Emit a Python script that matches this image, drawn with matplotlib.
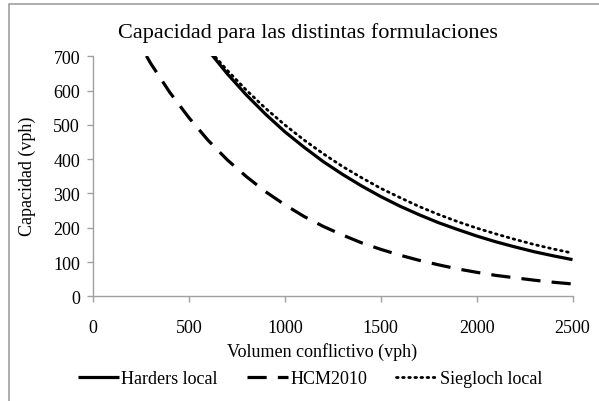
import matplotlib
matplotlib.use("Agg")
import matplotlib.pyplot as plt
from matplotlib.patches import Rectangle

plt.rcParams['font.family'] = ['Liberation Serif', 'DejaVu Serif']

volumen = [200, 300, 400, 500, 600, 700, 800, 900, 1000, 1100, 1200, 1300, 1400,
           1500, 1600, 1700, 1800, 1900, 2000, 2100, 2200, 2300, 2400, 2500]
harders = [1070, 970, 880, 790, 718, 649, 587, 531, 480, 435, 393, 356, 322,
           291, 263, 238, 215, 195, 176, 159, 144, 130, 118, 107]
hcm2010 = [778, 680, 595, 521, 455, 398, 349, 305, 267, 233, 204, 179, 156,
           137, 120, 105, 92, 80, 70, 61, 54, 47, 41, 36]
siegloch = [1040, 950, 870, 795, 722, 659, 601, 548, 500, 456, 416, 379, 346,
            315, 288, 262, 239, 218, 199, 182, 166, 151, 138, 126]

series_names = ["Harders local", "HCM2010", "Siegloch local"]
xticks = [0, 500, 1000, 1500, 2000, 2500]
yticks = [0, 100, 200, 300, 400, 500, 600, 700]

W, H = 599, 402
FS = 13
fig = plt.figure(figsize=(W / 100, H / 100), dpi=100)
ax = fig.add_axes([93 / W, 1 - 297.3 / H, (572.5 - 93) / W, (297.3 - 57.3) / H])

l1, = ax.plot(volumen, harders, color='black', lw=2.3, solid_capstyle='butt')
l2, = ax.plot(volumen, hcm2010, color='black', lw=2.3, dashes=(6, 3.5))
l3, = ax.plot(volumen, siegloch, color='black', lw=2.0, dashes=(0.6, 1.6),
              dash_capstyle='round')

ax.set_xlim(0, 2500)
ax.set_ylim(0, 700)
ax.set_xticks(xticks)
ax.set_yticks(yticks)
for s in ['top', 'right']:
    ax.spines[s].set_visible(False)
for s in ['left', 'bottom']:
    ax.spines[s].set_color('#a0a0a0')
    ax.spines[s].set_linewidth(1.0)
ax.tick_params(axis='both', direction='out', length=4.3, width=1.0, color='#a0a0a0',
               labelsize=FS, labelcolor='black')
ax.tick_params(axis='x', pad=12)
ax.tick_params(axis='y', pad=5)

fig.text(308 / W, 1 - 33 / H, "Capacidad para las distintas formulaciones",
         ha='center', va='center', fontsize=16)
fig.text(322 / W, 1 - 352 / H, "Volumen conflictivo (vph)",
         ha='center', va='center', fontsize=FS)
fig.text(27 / W, 1 - 176 / H, "Capacidad (vph)", rotation=90,
         ha='center', va='center', fontsize=FS)

fig.legend([l1, l2, l3], series_names, loc='center', bbox_to_anchor=(310 / W, 1 - 380 / H),
           ncol=3, frameon=False, fontsize=FS, handlelength=2.3, handletextpad=0.12,
           columnspacing=1.6)

fig.add_artist(Rectangle((9 / W, -0.1), 1.2, 1.1 - 5 / H, transform=fig.transFigure,
                         fill=False, edgecolor='#a0a0a0', lw=1.2))

fig.savefig("out.png", dpi=100)
